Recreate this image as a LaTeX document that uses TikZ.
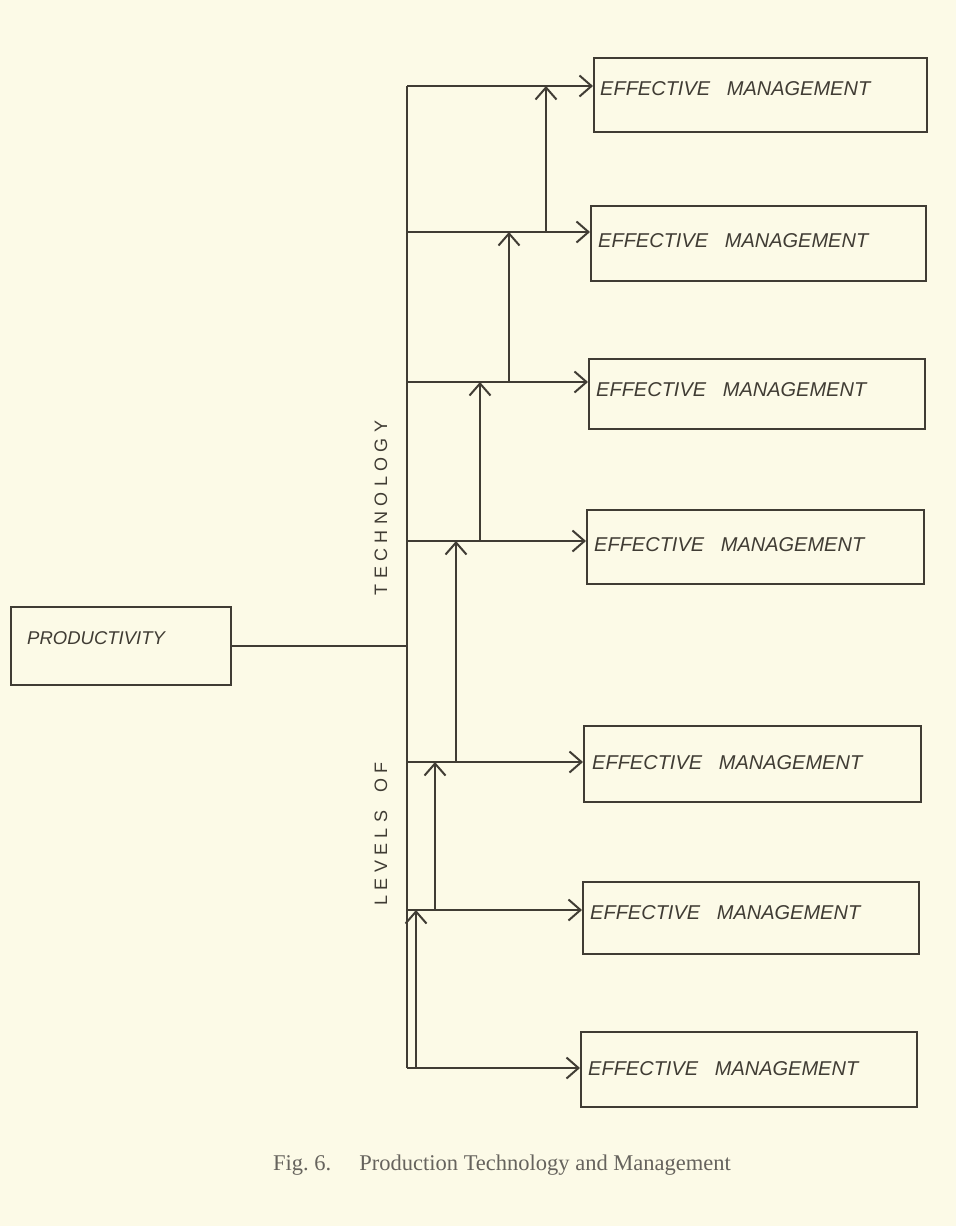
\documentclass[tikz,border=0pt]{standalone}
\usepackage{fontspec}
\setmainfont{Liberation Serif}
\newfontfamily\handfont{Liberation Sans}
\usetikzlibrary{arrows.meta}
\definecolor{paper}{RGB}{252,250,231}
\definecolor{ink}{RGB}{64,60,52}
\begin{document}
\begin{tikzpicture}[x=1pt,y=-1pt,
  inkline/.style={draw=ink, line width=2.1pt},
  embox/.style={draw=ink, line width=2.3pt, anchor=north west, inner sep=0pt},
  emtext/.style={anchor=west, text=ink, font=\handfont\itshape\fontsize{20}{20}\selectfont, inner sep=0pt},
  barb/.style={inkline, -{Straight Barb[length=12pt,width=21pt,line width=2pt]}},
  vlabel/.style={rotate=90, text=ink, inner sep=0pt, font=\handfont\fontsize{18}{18}\selectfont\addfontfeature{LetterSpace=30}},
]
\fill[paper] (0,0) rectangle (956,1226);
\useasboundingbox (0,0) rectangle (956,1226);

% boxes
\node[embox, minimum width=220pt, minimum height=78pt] (prod) at (10,606) {};
\node[emtext, font=\handfont\itshape\fontsize{18.5}{18.5}\selectfont] (prodt) at (27,638) {PRODUCTIVITY};

\node[embox, minimum width=333pt, minimum height=74pt] (m1) at (593,57) {};
\node[embox, minimum width=335pt, minimum height=75pt] (m2) at (590,205) {};
\node[embox, minimum width=336pt, minimum height=70pt] (m3) at (588,358) {};
\node[embox, minimum width=337pt, minimum height=74pt] (m4) at (586,509) {};
\node[embox, minimum width=337pt, minimum height=76pt] (m5) at (583,725) {};
\node[embox, minimum width=336pt, minimum height=72pt] (m6) at (582,881) {};
\node[embox, minimum width=336pt, minimum height=75pt] (m7) at (580,1031) {};

% branch points on the trunk
\coordinate (b1) at (407,86);
\coordinate (b2) at (407,232);
\coordinate (b3) at (407,382);
\coordinate (b4) at (407,541);
\coordinate (b5) at (407,762);
\coordinate (b6) at (407,910);
\coordinate (b7) at (407,1068);

% texts in boxes
\node[emtext] (t1) at (600,89) {EFFECTIVE\ \ \ MANAGEMENT};
\node[emtext] (t2) at (598,241) {EFFECTIVE\ \ \ MANAGEMENT};
\node[emtext] (t3) at (596,390) {EFFECTIVE\ \ \ MANAGEMENT};
\node[emtext] (t4) at (594,545) {EFFECTIVE\ \ \ MANAGEMENT};
\node[emtext] (t5) at (592,763) {EFFECTIVE\ \ \ MANAGEMENT};
\node[emtext] (t6) at (590,913) {EFFECTIVE\ \ \ MANAGEMENT};
\node[emtext] (t7) at (588,1069) {EFFECTIVE\ \ \ MANAGEMENT};

% trunk and productivity link
\draw[inkline] (b1) -- (b7);
\draw[inkline] (prod.east) -- (prod.east -| b1);

% horizontal arrows
\draw[barb] (b1) -- (b1 -| m1.west);
\draw[barb] (b2) -- (b2 -| m2.west);
\draw[barb] (b3) -- (b3 -| m3.west);
\draw[barb] (b4) -- (b4 -| m4.west);
\draw[barb] (b5) -- (b5 -| m5.west);
\draw[barb] (b6) -- (b6 -| m6.west);
\draw[barb] (b7) -- (b7 -| m7.west);

% staircase arrows
\coordinate (u1) at (416,1068);
\coordinate (u2) at (435,910);
\coordinate (u3) at (456,762);
\coordinate (u4) at (480,541);
\coordinate (u5) at (509,382);
\coordinate (u6) at (546,232);
\draw[barb] (u1) -- (u1 |- b6);
\draw[barb] (u2) -- (u2 |- b5);
\draw[barb] (u3) -- (u3 |- b4);
\draw[barb] (u4) -- (u4 |- b3);
\draw[barb] (u5) -- (u5 |- b2);
\draw[barb] (u6) -- (u6 |- b1);

% vertical labels
\node[vlabel] (lv) at (381,834) {LEVELS\quad OF};
\node[vlabel] (tc) at (381,508) {TECHNOLOGY};

% caption
\node[text=ink!80, font=\fontsize{22.5}{22.5}\selectfont, inner sep=0pt] (cap) at (502,1165) {Fig.~6.\quad\ Production Technology and Management};
\end{tikzpicture}
\end{document}
